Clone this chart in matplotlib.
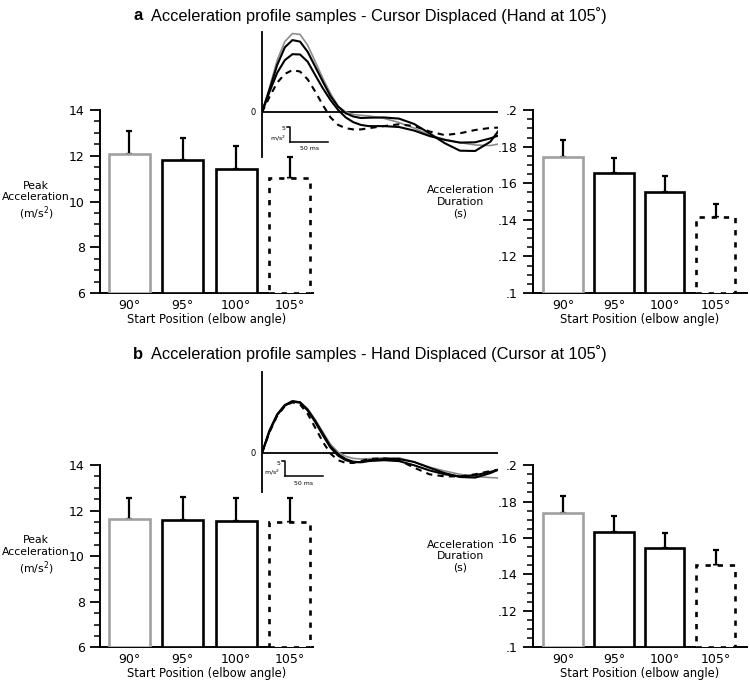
import matplotlib
matplotlib.use('Agg')
import matplotlib.pyplot as plt
import matplotlib.ticker as ticker
import numpy as np

# bar data
positions = ['90°', '95°', '100°', '105°']
peak_acc_a = [12.08, 11.82, 11.42, 11.03]
peak_acc_a_err = [1.00, 0.97, 1.02, 0.92]
dur_a = [0.1745, 0.1654, 0.1554, 0.1414]
dur_a_err = [0.0091, 0.0086, 0.0086, 0.0074]
peak_acc_b = [11.62, 11.59, 11.56, 11.52]
peak_acc_b_err = [0.95, 1.01, 0.98, 1.02]
dur_b = [0.1735, 0.1634, 0.1546, 0.1451]
dur_b_err = [0.0097, 0.0085, 0.0079, 0.0082]

# acceleration profile samples (ms, m/s^2)
t_ms = [0, 10, 20, 30, 40, 50, 60, 70, 80, 90, 100, 110, 120, 130, 140,
        160, 180, 200, 220, 240, 260, 280, 300, 310]
a_gray = [0, 8.3, 17.4, 23.6, 26.3, 26.0, 22.4, 16.9, 11.3, 6.3, 2.1, 0.1, -0.7, -1.0, -1.2,
          -2.0, -3.4, -5.3, -7.6, -9.0, -10.1, -10.9, -11.1, -10.6]
a_black1 = [0, 7.7, 15.8, 21.7, 24.1, 23.6, 20.2, 15.2, 10.2, 5.4, 1.9, -0.3, -1.4, -1.9, -1.8,
            -1.7, -2.1, -3.9, -7.0, -10.3, -12.8, -12.9, -9.8, -6.4]
a_black2 = [0, 6.9, 13.2, 17.4, 19.4, 19.3, 16.9, 12.4, 8.0, 4.1, 0.8, -1.7, -3.3, -4.2, -4.6,
            -4.6, -4.9, -6.1, -7.9, -9.2, -10.1, -10.0, -8.7, -7.8]
a_dashed = [0, 5.2, 9.9, 12.8, 14.1, 13.6, 11.0, 6.9, 2.4, -1.7, -4.2, -5.3, -5.7, -5.7, -5.3,
            -4.6, -4.0, -4.6, -6.4, -7.6, -7.0, -5.9, -5.2, -5.1]

b_gray = [0, 7.6, 12.9, 15.9, 17.3, 17.0, 14.8, 11.1, 7.0, 2.9, 0.3, -1.1, -1.8, -2.0, -1.9,
          -1.6, -1.6, -3.0, -4.7, -6.0, -7.1, -7.8, -8.2, -8.3]
b_black1 = [0, 7.6, 12.9, 16.0, 17.3, 16.9, 14.4, 10.7, 6.4, 2.2, -0.4, -2.0, -2.9, -3.1, -2.7,
            -2.4, -2.7, -4.1, -5.8, -7.1, -7.8, -7.4, -6.3, -5.6]
b_black2 = [0, 7.3, 12.7, 15.8, 17.1, 16.8, 14.2, 10.3, 5.9, 1.8, -0.9, -2.4, -3.1, -3.0, -2.4,
            -2.0, -2.0, -3.0, -4.9, -6.7, -8.0, -8.2, -6.7, -5.6]
b_dashed = [0, 7.0, 12.4, 15.6, 16.9, 16.2, 13.1, 8.4, 3.7, -0.2, -2.4, -3.3, -3.3, -2.7, -2.0,
            -1.8, -2.4, -4.9, -7.1, -7.8, -7.8, -7.1, -6.0, -5.6]

edge_cols = ['#a0a0a0', 'black', 'black', 'black']

fig = plt.figure(figsize=(7.5, 6.84), dpi=100)


def bar_panel(rect, vals, errs, ylim, major, minor, fmt, ylabel, ylabel_x, xlim):
    ax = fig.add_axes(rect)
    x = np.arange(len(vals))
    bars = ax.bar(x, np.array(vals) - ylim[0], bottom=ylim[0], width=0.77,
                  color='white', edgecolor=edge_cols, linewidth=1.9, zorder=3)
    bars[3].set_linestyle((0, (2, 2.6)))
    ax.errorbar(x, vals, yerr=[np.zeros(len(errs)), errs], fmt='none', ecolor='black',
                elinewidth=1.6, capsize=2.5, capthick=1.6, zorder=2)
    ax.set_ylim(ylim)
    ax.set_xlim(xlim)
    ax.yaxis.set_major_locator(ticker.MultipleLocator(major))
    ax.yaxis.set_minor_locator(ticker.MultipleLocator(minor))
    ax.yaxis.set_major_formatter(ticker.FuncFormatter(fmt))
    ax.tick_params(axis='y', which='major', length=7, width=1.3, direction='out',
                   labelsize=9, pad=4)
    ax.tick_params(axis='y', which='minor', length=4, width=1.1, direction='out')
    ax.set_xticks(x)
    ax.set_xticklabels(positions, fontsize=9)
    ax.tick_params(axis='x', length=0, pad=4)
    for s in ['top', 'right']:
        ax.spines[s].set_visible(False)
    for s in ['left', 'bottom']:
        ax.spines[s].set_linewidth(1.4)
    ax.set_xlabel('Start Position (elbow angle)', fontsize=8.3, labelpad=1)
    ax.text(ylabel_x, 0.5, ylabel, transform=ax.transAxes, ha='center', va='center',
            fontsize=7.8, linespacing=1.2)
    ax.set_facecolor('none')
    return ax


def fmt_int(v, pos):
    return '%d' % round(v)


def fmt_dec(v, pos):
    s = ('%.2f' % v).rstrip('0')
    return s.lstrip('0')


left_xlim = (-0.553, 3.44)
right_xlim = (-0.59, 3.61)

bar_panel([0.1333, 0.5716, 0.284, 0.2675], peak_acc_a, peak_acc_a_err, (6, 14), 2, 0.5,
          fmt_int, 'Peak\nAcceleration\n(m/s$^2$)', -0.30, left_xlim)
bar_panel([0.7107, 0.5716, 0.285, 0.2675], dur_a, dur_a_err, (0.1, 0.2), 0.02, 0.005,
          fmt_dec, 'Acceleration\nDuration\n(s)', -0.34, right_xlim)
bar_panel([0.1333, 0.0536, 0.284, 0.2665], peak_acc_b, peak_acc_b_err, (6, 14), 2, 0.5,
          fmt_int, 'Peak\nAcceleration\n(m/s$^2$)', -0.30, left_xlim)
bar_panel([0.7107, 0.0536, 0.285, 0.2665], dur_b, dur_b_err, (0.1, 0.2), 0.02, 0.005,
          fmt_dec, 'Acceleration\nDuration\n(s)', -0.34, right_xlim)


def profile_inset(rect, ylim, curves, bar_top, bar_t):
    ax = fig.add_axes(rect)
    ax.set_facecolor('none')
    ax.set_xlim(0, 310)
    ax.set_ylim(ylim)
    for s in ['top', 'right', 'bottom']:
        ax.spines[s].set_visible(False)
    ax.spines['left'].set_linewidth(1.3)
    ax.set_xticks([])
    ax.set_yticks([])
    ax.plot([0, 310], [0, 0], color='black', lw=1.3)
    g, k1, k2, d = curves
    ax.plot(t_ms, g, color='#8c8c8c', lw=1.2)
    ax.plot(t_ms, k1, color='black', lw=1.5)
    ax.plot(t_ms, k2, color='black', lw=1.5)
    ax.plot(t_ms, d, color='black', lw=1.5, linestyle=(0, (3, 2.5)))
    ax.text(-8, 0, '0', ha='right', va='center', fontsize=6)
    # scale bars: 5 m/s^2 and 50 ms
    ax.plot([bar_t - 4, bar_t, bar_t], [bar_top, bar_top, bar_top - 5], color='black', lw=1.1)
    ax.plot([bar_t, bar_t + 50], [bar_top - 5, bar_top - 5], color='black', lw=1.1)
    ax.text(bar_t - 6, bar_top - 2.5, '5\nm/s$^2$', ha='right', va='center', fontsize=4.5,
            linespacing=1.3)
    ax.text(bar_t + 25, bar_top - 6.5, '50 ms', ha='center', va='top', fontsize=4.5)
    return ax


profile_inset([0.3493, 0.7705, 0.3147, 0.1827], (-14.9, 26.8),
              [a_gray, a_black1, a_black2, a_dashed], -4.9, 37)
profile_inset([0.3493, 0.2807, 0.3147, 0.1754], (-13.0, 27.0),
              [b_gray, b_black1, b_black2, b_dashed], -2.8, 30)

# panel titles
fig.text(133 / 750, 1 - 16 / 684, 'a', fontsize=12, fontweight='bold', family='Liberation Sans',
         ha='left', va='center')
fig.text(151 / 750, 1 - 16 / 684, 'Acceleration profile samples - Cursor Displaced (Hand at 105˚)',
         fontsize=11.8, family='Liberation Sans', ha='left', va='center')
fig.text(133 / 750, 1 - 354 / 684, 'b', fontsize=12, fontweight='bold', family='Liberation Sans',
         ha='left', va='center')
fig.text(151 / 750, 1 - 354 / 684, 'Acceleration profile samples - Hand Displaced (Cursor at 105˚)',
         fontsize=11.8, family='Liberation Sans', ha='left', va='center')

fig.savefig('out.png', dpi=100)
